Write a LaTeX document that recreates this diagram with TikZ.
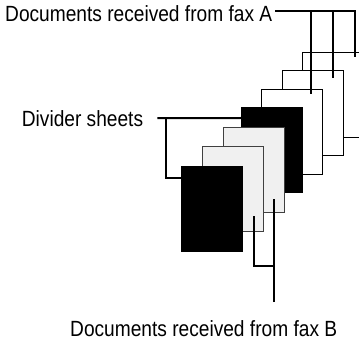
\documentclass[tikz,border=0pt]{standalone}
\usepackage{fontspec}
\setmainfont{Liberation Sans}[FakeStretch=0.87]
\usepackage{tikz}
\usetikzlibrary{positioning, calc}

\tikzset{
    sheet/.style={draw, line width=1pt, minimum width=60.5pt, minimum height=85pt,
        inner sep=0pt, anchor=north west},
    blacksheet/.style={sheet, fill=black},
    graysheet/.style={sheet, draw=black!75, fill=black!6},
    whitesheet/.style={sheet, fill=white},
    lead/.style={line width=2pt},
    caption/.style={font=\fontsize{22}{24}\selectfont, inner sep=0pt, anchor=base west}
}

\begin{document}
\begin{tikzpicture}[x=1pt, y=-1pt]
    % Frame
    \useasboundingbox (0,0) rectangle (359,342);

    % Stack of sheets, back to front
    \node[whitesheet] (s7) at (302,52) {};
    \node[whitesheet] (s6) at (282,70) {};
    \node[whitesheet] (s5) at (261,89) {};
    \node[blacksheet] (s4) at (241,107) {};
    \node[graysheet] (s3) at (223,127) {};
    \node[graysheet] (s2) at (202,146) {};
    \node[blacksheet] (s1) at (181,166) {};

    % Labels
    \node[caption] (faxA) at (5,21.7) {Documents received from fax A};
    \node[caption] (divider) at (21.7,126.7) {Divider sheets};
    \node[caption] (faxB) at (70,336.7) {Documents received from fax B};

    % Fax A leader
    \coordinate (a0) at ($(faxA.base east)+(3,-10.5)$);
    \coordinate (a5) at ($(s5.north west)+(50,5)$);
    \coordinate (a6) at ($(s6.north west)+(51,8)$);
    \coordinate (a7) at ($(s7.north west)+(53,5)$);
    \draw[lead] (a0) -| (a7);
    \draw[lead] (a5 |- a0) -- (a5);
    \draw[lead] (a6 |- a0) -- (a6);

    % Divider leader
    \coordinate (d0) at ($(divider.base east)+(14,-8.5)$);
    \coordinate (d4) at ($(s4.north west)+(0,11)$);
    \coordinate (d1) at ($(s1.north west)+(0,12)$);
    \coordinate (dk) at (166,118);
    \draw[lead] (d0) -- (d4);
    \draw[lead] (dk |- d4) |- (d1);

    % Fax B leader
    \coordinate (b3) at ($(s3.north west)+(51,72)$);
    \coordinate (b2) at ($(s2.north west)+(52,70)$);
    \coordinate (bend) at (274,302);
    \coordinate (bk) at (274,266);
    \draw[lead] (bend) -- (b3);
    \draw[lead] (bk) -| (b2);
\end{tikzpicture}
\end{document}
